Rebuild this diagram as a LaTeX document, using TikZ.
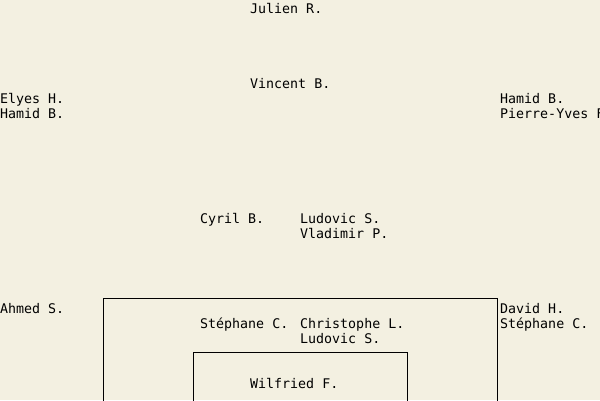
\documentclass[tikz,border=0pt]{standalone}
\usepackage{fontspec}
\setmonofont{DejaVu Sans Mono}
\definecolor{bgbeige}{RGB}{243,240,225}
\tikzset{
  lbl/.style={anchor=base west, inner sep=0pt, font=\ttfamily\fontsize{13.3}{15}\selectfont, text=black},
  frame/.style={draw=black, line width=1pt}
}
\begin{document}
\begin{tikzpicture}[x=1pt,y=-1pt]
\useasboundingbox (0,0) rectangle (600,400);
\fill[bgbeige] (0,0) rectangle (600,400);
\clip (0,0) rectangle (600,400);
% frames (continue past the bottom edge)
\draw[frame] (103.5,420) -- (103.5,298.5) -- (497.5,298.5) -- (497.5,420);
\draw[frame] (193.5,420) -- (193.5,352.5) -- (407.5,352.5) -- (407.5,420);
% labels
\node[lbl] (julien) at (250,13) {Julien R.};
\node[lbl] (vincent) at (250,88) {Vincent B.};
\node[lbl] (elyes) at (0,103) {Elyes H.};
\node[lbl] (hamidl) at (0,118) {Hamid B.};
\node[lbl] (hamidr) at (500,103) {Hamid B.};
\node[lbl] (pierre) at (500,118) {Pierre-Yves F.};
\node[lbl] (cyril) at (200,223) {Cyril B.};
\node[lbl] (ludovica) at (300,223) {Ludovic S.};
\node[lbl] (vladimir) at (300,238) {Vladimir P.};
\node[lbl] (ahmed) at (0,313) {Ahmed S.};
\node[lbl] (david) at (500,313) {David H.};
\node[lbl] (stephr) at (500,328) {Stéphane C.};
\node[lbl] (stephm) at (200,328) {Stéphane C.};
\node[lbl] (christophe) at (300,328) {Christophe L.};
\node[lbl] (ludovicb) at (300,343) {Ludovic S.};
\node[lbl] (wilfried) at (250,388) {Wilfried F.};
\end{tikzpicture}
\end{document}
